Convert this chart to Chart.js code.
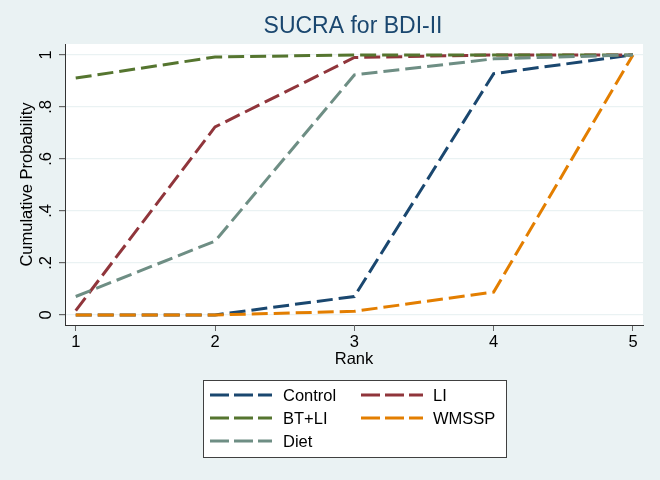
<!DOCTYPE html>
<html>
<head>
<meta charset="utf-8">
<script src="https://cdn.jsdelivr.net/npm/chart.js@4/dist/chart.umd.min.js"></script>
<style>
  html, body { margin: 0; padding: 0; background: #EAF2F3; }
  #wrap { width: 660px; height: 480px; position: relative; }
</style>
</head>
<body>
<div id="wrap"><canvas id="sucra" width="660" height="480"></canvas></div>
<script>
// DATA
const ranks = [1, 2, 3, 4, 5];
const yTicks = [0, 0.2, 0.4, 0.6, 0.8, 1];
const yTickLabels = ["0", ".2", ".4", ".6", ".8", "1"];

const seriesNames = ["Control", "LI", "BT+LI", "WMSSP", "Diet"];
const control = [0, 0, 0.071, 0.928, 1];
const li = [0.017, 0.723, 0.99, 1, 1];
const btli = [0.911, 0.992, 1, 1, 1];
const wmssp = [0, 0, 0.014, 0.088, 1];
const diet = [0.071, 0.284, 0.923, 0.985, 1];

// stata s2color palette
const lineColors = ["#1A476F", "#90353B", "#55752F", "#E37E00", "#6E8E84"];
const allValues = [control, li, btli, wmssp, diet];

const FONT = "'Liberation Sans', Arial, sans-serif";

const datasets = allValues.map((vals, i) => ({
  label: seriesNames[i],
  data: vals.map((v, j) => ({ x: ranks[j], y: v })),
  borderColor: lineColors[i],
  backgroundColor: lineColors[i],
  borderWidth: 3,
  borderDash: [16, 6],
  pointRadius: 0,
  tension: 0,
  order: allValues.length - i
}));

// title, y labels, legend box drawn by hand
const stataBits = {
  id: "stataBits",
  beforeDraw(chart) {
    const { ctx, chartArea: a } = chart;
    ctx.save();
    ctx.fillStyle = "#FFFFFF";
    ctx.fillRect(a.left, a.top, a.right - a.left, a.bottom - a.top);
    ctx.restore();
  },
  afterDraw(chart) {
    const ctx = chart.ctx;
    const yScale = chart.scales.y;
    ctx.save();
    // title
    ctx.fillStyle = "#1A476F";
    ctx.font = "23px " + FONT;
    ctx.textAlign = "center";
    ctx.textBaseline = "middle";
    ctx.fillText("SUCRA for BDI-II", 353, 27);

    // y tick labels, rotated
    ctx.fillStyle = "#000";
    ctx.font = "16.5px " + FONT;
    yTicks.forEach((v, i) => {
      const py = yScale.getPixelForValue(v);
      ctx.save();
      ctx.translate(46, py);
      ctx.rotate(-Math.PI / 2);
      ctx.fillText(yTickLabels[i], 0, 0);
      ctx.restore();
    });
    // y title
    ctx.save();
    ctx.translate(27, (chart.chartArea.top + chart.chartArea.bottom) / 2);
    ctx.rotate(-Math.PI / 2);
    ctx.fillText("Cumulative Probability", 0, 0);
    ctx.restore();
    // x title
    ctx.fillText("Rank", 354, 359);

    // legend
    ctx.fillStyle = "#FFFFFF";
    ctx.fillRect(203, 380, 303, 77);
    ctx.strokeStyle = "#404040";
    ctx.lineWidth = 1;
    ctx.strokeRect(203.5, 380.5, 303, 77);
    const cols = [{ lx: 210, tx: 283 }, { lx: 361, tx: 433 }];
    const rows = [395, 418, 441];
    chart.data.datasets.forEach((ds, i) => {
      const c = cols[i % 2];
      const ry = rows[Math.floor(i / 2)];
      ctx.strokeStyle = ds.borderColor;
      ctx.lineWidth = 3;
      ctx.setLineDash([19, 5]);
      ctx.beginPath();
      ctx.moveTo(c.lx, ry);
      ctx.lineTo(c.lx + 62, ry);
      ctx.stroke();
      ctx.setLineDash([]);
      ctx.fillStyle = "#000";
      ctx.textAlign = "left";
      ctx.fillText(ds.label, c.tx, ry + 1);
    });
    ctx.restore();
  }
};

new Chart("sucra", {
  type: "line",
  data: { datasets: datasets },
  options: {
    responsive: false,
    animation: false,
    layout: { padding: { top: 44, right: 17, left: 0, bottom: 0 } },
    plugins: {
      legend: { display: false },
      title: { display: false },
      tooltip: { enabled: false }
    },
    scales: {
      x: {
        type: "linear",
        min: 0.923,
        max: 5.072,
        afterBuildTicks: (s) => { s.ticks = ranks.map(v => ({ value: v })); },
        afterFit: (s) => { s.height = 155; },
        grid: { drawOnChartArea: false, drawTicks: true, tickLength: 6, tickColor: "#666" },
        border: { display: true, color: "#333", width: 1 },
        ticks: {
          color: "#000",
          font: { family: FONT, size: 16.5 },
          padding: 2,
          maxRotation: 0,
          callback: (v) => String(v)
        }
      },
      y: {
        type: "linear",
        min: -0.0386,
        max: 1.042,
        afterBuildTicks: (s) => { s.ticks = yTicks.map(v => ({ value: v })); },
        afterFit: (s) => { s.width = 65; },
        grid: { color: "#EAF2F3", lineWidth: 1.2, drawTicks: true, tickLength: 6, tickColor: "#666" },
        border: { display: true, color: "#333", width: 1 },
        ticks: { display: false }
      }
    }
  },
  plugins: [stataBits]
});
</script>
</body>
</html>
